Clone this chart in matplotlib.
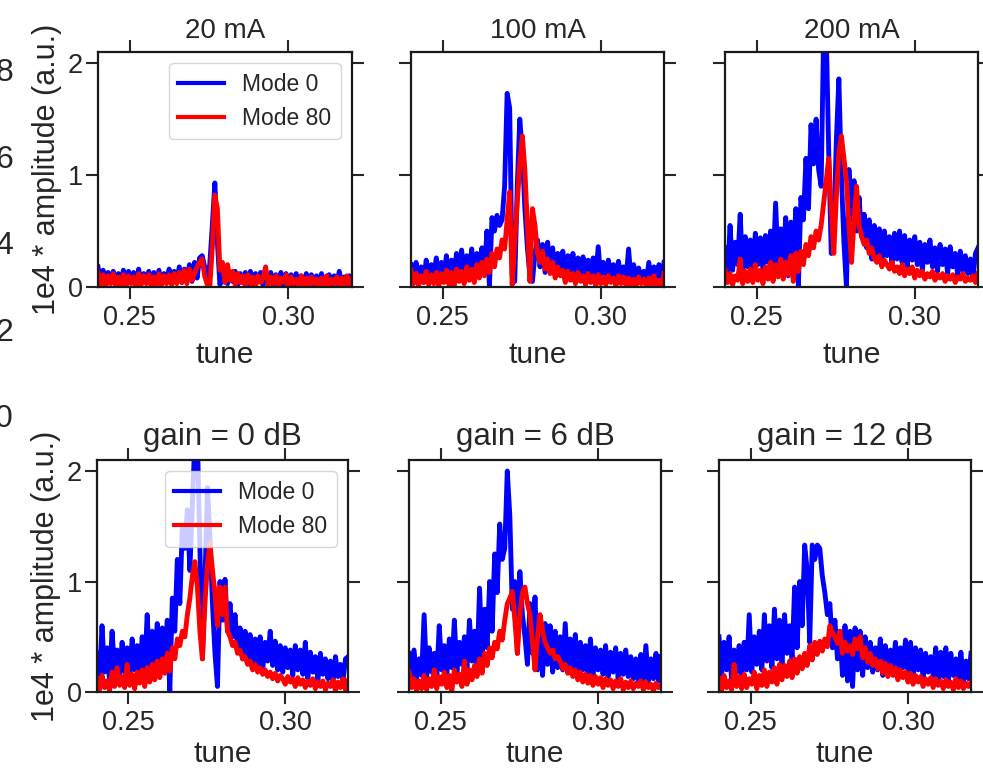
"""
Betatron tune spectra for mode 0 and mode 80: current scan (top row) and
feedback gain scan (bottom row).
"""

import matplotlib
matplotlib.use("Agg")
import matplotlib.pyplot as plt
import numpy as np

# ---------------------------------------------------------------------------
# Spectra, in units of 1e4 * amplitude, sampled every 0.0008 in tune from 0.24
# ---------------------------------------------------------------------------
TUNE_START = 0.24
TUNE_STEP = 0.0008

MA20_MODE0 = [
    0.18, 0.03, 0.15, 0.01, 0.13, 0.04, 0.14, 0.00, 0.12, 0.03,
    0.15, 0.01, 0.14, 0.05, 0.13, 0.00, 0.16, 0.03, 0.12, 0.04,
    0.14, 0.01, 0.13, 0.03, 0.15, 0.02, 0.12, 0.05, 0.16, 0.03,
    0.14, 0.05, 0.18, 0.04, 0.16, 0.06, 0.20, 0.05, 0.22, 0.08,
    0.26, 0.28, 0.18, 0.08, 0.20, 0.55, 0.93, 0.40, 0.02, 0.08,
    0.15, 0.03, 0.13, 0.05, 0.14, 0.02, 0.12, 0.04, 0.13, 0.02,
    0.14, 0.03, 0.12, 0.05, 0.13, 0.01, 0.12, 0.03, 0.13, 0.01,
    0.11, 0.04, 0.13, 0.02, 0.12, 0.03, 0.11, 0.01, 0.12, 0.04,
    0.10, 0.02, 0.12, 0.03, 0.11, 0.01, 0.10, 0.03, 0.12, 0.02,
    0.09, 0.11, 0.02, 0.10, 0.03, 0.14, 0.02, 0.09, 0.01, 0.10,
    0.08,
]
MA20_MODE80 = [
    0.13, 0.02, 0.11, 0.01, 0.10, 0.03, 0.12, 0.00, 0.09, 0.02,
    0.11, 0.01, 0.10, 0.03, 0.09, 0.00, 0.12, 0.02, 0.10, 0.03,
    0.11, 0.01, 0.09, 0.02, 0.12, 0.01, 0.10, 0.03, 0.11, 0.02,
    0.12, 0.03, 0.13, 0.04, 0.15, 0.03, 0.16, 0.06, 0.12, 0.18,
    0.22, 0.25, 0.10, 0.02, 0.00, 0.35, 0.82, 0.70, 0.15, 0.22,
    0.04, 0.20, 0.06, 0.14, 0.02, 0.12, 0.04, 0.10, 0.01, 0.11,
    0.03, 0.09, 0.01, 0.10, 0.04, 0.08, 0.18, 0.02, 0.09, 0.03,
    0.10, 0.01, 0.08, 0.04, 0.11, 0.01, 0.09, 0.03, 0.07, 0.01,
    0.10, 0.02, 0.08, 0.01, 0.09, 0.03, 0.07, 0.01, 0.08, 0.02,
    0.10, 0.01, 0.07, 0.03, 0.09, 0.01, 0.08, 0.02, 0.10, 0.01,
    0.07,
]

MA100_MODE0 = [
    0.20, 0.06, 0.22, 0.08, 0.18, 0.04, 0.24, 0.07, 0.20, 0.09,
    0.26, 0.06, 0.22, 0.10, 0.28, 0.08, 0.24, 0.12, 0.30, 0.09,
    0.33, 0.11, 0.28, 0.13, 0.34, 0.10, 0.30, 0.15, 0.35, 0.12,
    0.50, 0.00, 0.62, 0.50, 0.64, 0.55, 0.60, 0.90, 1.73, 1.60,
    0.10, 0.05, 0.90, 1.50, 1.20, 0.70, 0.35, 0.10, 0.05, 0.30,
    0.42, 0.18, 0.38, 0.13, 0.40, 0.16, 0.35, 0.10, 0.30, 0.14,
    0.32, 0.08, 0.28, 0.12, 0.30, 0.10, 0.26, 0.08, 0.27, 0.11,
    0.24, 0.07, 0.26, 0.09, 0.36, 0.08, 0.22, 0.06, 0.24, 0.10,
    0.20, 0.05, 0.23, 0.08, 0.18, 0.07, 0.34, 0.05, 0.20, 0.08,
    0.17, 0.06, 0.14, 0.04, 0.22, 0.05, 0.18, 0.03, 0.20, 0.06,
    0.22,
]
MA100_MODE80 = [
    0.15, 0.03, 0.12, 0.01, 0.10, 0.04, 0.14, 0.02, 0.11, 0.03,
    0.13, 0.01, 0.12, 0.04, 0.15, 0.02, 0.13, 0.00, 0.16, 0.05,
    0.14, 0.03, 0.18, 0.06, 0.16, 0.04, 0.20, 0.08, 0.22, 0.10,
    0.25, 0.13, 0.30, 0.18, 0.34, 0.26, 0.42, 0.34, 0.60, 0.85,
    0.02, 0.40, 0.75, 1.10, 1.35, 1.05, 0.55, 0.05, 0.70, 0.55,
    0.30, 0.22, 0.32, 0.16, 0.25, 0.12, 0.22, 0.08, 0.18, 0.10,
    0.15, 0.04, 0.14, 0.06, 0.12, 0.03, 0.13, 0.05, 0.10, 0.02,
    0.12, 0.04, 0.10, 0.01, 0.11, 0.03, 0.09, 0.02, 0.10, 0.04,
    0.08, 0.01, 0.10, 0.03, 0.09, 0.01, 0.08, 0.02, 0.07, 0.01,
    0.09, 0.03, 0.07, 0.01, 0.08, 0.02, 0.10, 0.01, 0.06, 0.02,
    0.12,
]

MA200_MODE0 = [
    0.35, 0.10, 0.55, 0.15, 0.40, 0.20, 0.65, 0.12, 0.45, 0.18,
    0.42, 0.16, 0.48, 0.20, 0.44, 0.15, 0.46, 0.22, 0.50, 0.18,
    0.75, 0.20, 0.52, 0.25, 0.62, 0.10, 0.58, 0.28, 0.70, 0.00,
    0.80, 0.60, 1.15, 0.70, 1.45, 1.10, 1.50, 1.05, 0.90, 2.30,
    2.30, 1.20, 0.30, 0.50, 1.30, 1.86, 1.00, 0.40, 0.00, 1.05,
    0.60, 0.95, 0.50, 0.80, 0.45, 0.65, 0.35, 0.60, 0.25, 0.55,
    0.30, 0.52, 0.22, 0.50, 0.28, 0.45, 0.20, 0.48, 0.25, 0.50,
    0.22, 0.46, 0.18, 0.42, 0.24, 0.45, 0.20, 0.40, 0.15, 0.38,
    0.22, 0.42, 0.18, 0.35, 0.14, 0.38, 0.20, 0.34, 0.12, 0.36,
    0.18, 0.30, 0.10, 0.32, 0.15, 0.28, 0.12, 0.25, 0.08, 0.30,
    0.35,
]
MA200_MODE80 = [
    0.15, 0.04, 0.12, 0.02, 0.10, 0.06, 0.25, 0.03, 0.14, 0.05,
    0.16, 0.04, 0.20, 0.06, 0.15, 0.03, 0.18, 0.07, 0.22, 0.05,
    0.20, 0.09, 0.25, 0.07, 0.22, 0.11, 0.28, 0.05, 0.30, 0.14,
    0.32, 0.20, 0.38, 0.28, 0.45, 0.35, 0.50, 0.42, 0.55, 0.75,
    0.95, 1.15, 0.70, 0.30, 0.80, 1.20, 1.35, 1.15, 0.95, 0.55,
    0.22, 0.60, 0.90, 0.55, 0.45, 0.38, 0.42, 0.30, 0.35, 0.26,
    0.22, 0.28, 0.18, 0.24, 0.20, 0.16, 0.22, 0.14, 0.18, 0.12,
    0.20, 0.10, 0.16, 0.12, 0.18, 0.08, 0.15, 0.10, 0.14, 0.07,
    0.12, 0.09, 0.14, 0.06, 0.11, 0.08, 0.12, 0.05, 0.10, 0.07,
    0.11, 0.04, 0.09, 0.07, 0.12, 0.05, 0.08, 0.06, 0.10, 0.04,
    0.12,
]

GAIN0_MODE0 = [
    0.35, 0.12, 0.60, 0.18, 0.40, 0.10, 0.55, 0.20, 0.38, 0.15,
    0.45, 0.18, 0.40, 0.12, 0.48, 0.20, 0.42, 0.15, 0.50, 0.22,
    0.70, 0.18, 0.55, 0.25, 0.62, 0.20, 0.58, 0.30, 0.65, 0.00,
    0.85, 0.55, 1.20, 0.80, 1.50, 1.30, 1.65, 1.10, 1.70, 2.30,
    2.30, 1.30, 0.30, 1.00, 1.85, 1.40, 0.80, 0.35, 0.05, 1.00,
    0.65, 1.02, 0.55, 0.80, 0.50, 0.70, 0.38, 0.58, 0.30, 0.55,
    0.28, 0.52, 0.25, 0.48, 0.22, 0.50, 0.20, 0.45, 0.28, 0.55,
    0.24, 0.46, 0.20, 0.42, 0.18, 0.40, 0.22, 0.38, 0.15, 0.42,
    0.20, 0.38, 0.16, 0.45, 0.12, 0.36, 0.18, 0.32, 0.10, 0.35,
    0.16, 0.30, 0.12, 0.28, 0.08, 0.32, 0.14, 0.25, 0.10, 0.30,
    0.32,
]
GAIN0_MODE80 = [
    0.12, 0.02, 0.15, 0.04, 0.10, 0.01, 0.18, 0.05, 0.22, 0.06,
    0.14, 0.04, 0.25, 0.06, 0.16, 0.03, 0.18, 0.08, 0.20, 0.05,
    0.22, 0.09, 0.25, 0.11, 0.28, 0.13, 0.30, 0.17, 0.35, 0.19,
    0.40, 0.30, 0.48, 0.42, 0.55, 0.50, 0.70, 0.85, 1.05, 1.18,
    0.95, 0.55, 0.30, 0.80, 1.15, 1.35, 1.10, 0.90, 0.60, 0.95,
    0.70, 0.95, 0.55, 0.50, 0.42, 0.45, 0.35, 0.38, 0.30, 0.32,
    0.25, 0.28, 0.20, 0.25, 0.18, 0.22, 0.16, 0.20, 0.14, 0.18,
    0.12, 0.17, 0.10, 0.15, 0.12, 0.07, 0.14, 0.09, 0.12, 0.05,
    0.13, 0.07, 0.11, 0.04, 0.10, 0.06, 0.12, 0.03, 0.09, 0.05,
    0.10, 0.02, 0.08, 0.05, 0.11, 0.01, 0.09, 0.04, 0.12, 0.02,
    0.10,
]

GAIN6_MODE0 = [
    0.35, 0.10, 0.38, 0.12, 0.30, 0.15, 0.70, 0.14, 0.40, 0.18,
    0.35, 0.12, 0.60, 0.20, 0.42, 0.15, 0.48, 0.22, 0.65, 0.18,
    0.45, 0.25, 0.50, 0.20, 0.65, 0.28, 0.55, 0.22, 0.94, 0.30,
    0.75, 0.40, 1.00, 0.55, 1.25, 0.90, 1.52, 1.20, 1.30, 2.00,
    1.60, 0.75, 1.00, 0.35, 1.09, 0.70, 0.50, 0.25, 0.80, 0.35,
    0.86, 0.20, 0.55, 0.15, 0.62, 0.25, 0.60, 0.18, 0.55, 0.22,
    0.50, 0.20, 0.62, 0.18, 0.48, 0.22, 0.52, 0.15, 0.45, 0.20,
    0.42, 0.18, 0.48, 0.15, 0.40, 0.20, 0.38, 0.16, 0.42, 0.14,
    0.36, 0.18, 0.40, 0.12, 0.35, 0.16, 0.38, 0.14, 0.32, 0.12,
    0.30, 0.10, 0.34, 0.12, 0.42, 0.10, 0.30, 0.12, 0.35, 0.10,
    0.32,
]
GAIN6_MODE80 = [
    0.18, 0.04, 0.12, 0.01, 0.10, 0.03, 0.15, 0.02, 0.12, 0.05,
    0.20, 0.03, 0.14, 0.07, 0.18, 0.04, 0.15, 0.01, 0.20, 0.09,
    0.16, 0.05, 0.28, 0.07, 0.20, 0.11, 0.24, 0.14, 0.30, 0.17,
    0.35, 0.24, 0.40, 0.31, 0.45, 0.39, 0.55, 0.47, 0.65, 0.80,
    0.85, 0.91, 0.65, 0.35, 0.70, 0.90, 0.95, 0.80, 0.70, 0.45,
    0.20, 0.50, 0.70, 0.55, 0.45, 0.40, 0.35, 0.38, 0.30, 0.32,
    0.28, 0.21, 0.25, 0.17, 0.22, 0.14, 0.20, 0.11, 0.18, 0.09,
    0.16, 0.08, 0.15, 0.06, 0.14, 0.07, 0.13, 0.04, 0.12, 0.06,
    0.11, 0.03, 0.10, 0.05, 0.12, 0.02, 0.09, 0.04, 0.10, 0.03,
    0.08, 0.05, 0.10, 0.02, 0.09, 0.04, 0.07, 0.01, 0.08, 0.04,
    0.06,
]

GAIN12_MODE0 = [
    0.50, 0.15, 0.45, 0.20, 0.50, 0.10, 0.38, 0.18, 0.42, 0.12,
    0.45, 0.20, 0.70, 0.18, 0.50, 0.25, 0.55, 0.20, 0.70, 0.28,
    0.60, 0.22, 0.75, 0.30, 0.65, 0.25, 0.70, 0.35, 0.60, 0.30,
    0.95, 0.40, 1.00, 0.60, 1.33, 1.10, 0.45, 1.33, 1.20, 1.33,
    1.30, 1.05, 0.90, 0.70, 0.80, 0.40, 0.65, 0.30, 0.55, 0.15,
    0.60, 0.10, 0.55, 0.05, 0.58, 0.20, 0.55, 0.15, 0.50, 0.22,
    0.45, 0.18, 0.40, 0.20, 0.48, 0.15, 0.42, 0.18, 0.38, 0.20,
    0.45, 0.15, 0.40, 0.22, 0.47, 0.18, 0.45, 0.15, 0.40, 0.20,
    0.38, 0.12, 0.35, 0.18, 0.32, 0.15, 0.40, 0.12, 0.36, 0.14,
    0.40, 0.10, 0.35, 0.15, 0.30, 0.12, 0.36, 0.10, 0.28, 0.12,
    0.35,
]
GAIN12_MODE80 = [
    0.12, 0.01, 0.15, 0.04, 0.10, 0.02, 0.25, 0.05, 0.14, 0.03,
    0.16, 0.04, 0.12, 0.07, 0.18, 0.03, 0.15, 0.06, 0.20, 0.05,
    0.18, 0.09, 0.22, 0.07, 0.25, 0.11, 0.24, 0.14, 0.28, 0.13,
    0.30, 0.17, 0.32, 0.21, 0.35, 0.24, 0.42, 0.29, 0.45, 0.34,
    0.46, 0.37, 0.48, 0.41, 0.60, 0.54, 0.50, 0.44, 0.55, 0.35,
    0.45, 0.37, 0.42, 0.34, 0.48, 0.39, 0.50, 0.31, 0.40, 0.27,
    0.35, 0.24, 0.30, 0.21, 0.28, 0.17, 0.26, 0.14, 0.24, 0.15,
    0.22, 0.11, 0.20, 0.13, 0.18, 0.09, 0.17, 0.07, 0.15, 0.09,
    0.14, 0.05, 0.12, 0.07, 0.13, 0.04, 0.12, 0.06, 0.10, 0.03,
    0.11, 0.05, 0.09, 0.02, 0.12, 0.04, 0.10, 0.03, 0.08, 0.05,
    0.09,
]

TOP_TITLES = ["20 mA", "100 mA", "200 mA"]
BOTTOM_TITLES = ["gain = 0 dB", "gain = 6 dB", "gain = 12 dB"]
TOP_SPECTRA = [(MA20_MODE0, MA20_MODE80), (MA100_MODE0, MA100_MODE80),
               (MA200_MODE0, MA200_MODE80)]
BOTTOM_SPECTRA = [(GAIN0_MODE0, GAIN0_MODE80), (GAIN6_MODE0, GAIN6_MODE80),
                  (GAIN12_MODE0, GAIN12_MODE80)]
SERIES_LABELS = ["Mode 0", "Mode 80"]
X_TICKS = [0.25, 0.30]
Y_TICKS = [0, 1, 2]
# tick labels of the neighbouring figure on the left
SIDE_LABELS = ["8", "6", "4", "2", "0"]

W, H = 983, 770
TEXT = "#262626"

plt.rcParams["font.family"] = ["Liberation Sans", "DejaVu Sans"]
plt.rcParams["text.color"] = TEXT
plt.rcParams["axes.labelcolor"] = TEXT
plt.rcParams["xtick.color"] = TEXT
plt.rcParams["ytick.color"] = TEXT


def _tune(values):
    return TUNE_START + TUNE_STEP * np.arange(len(values))


def _panel(fig, box, title, spectra, first, legend, title_size, title_pad,
           xlabel_pad):
    left, right, top, bottom = box
    ax = fig.add_axes([left / W, 1 - bottom / H, (right - left) / W, (bottom - top) / H])
    for vals, color, label in zip(spectra, ["blue", "red"], SERIES_LABELS):
        ax.plot(_tune(vals), vals, color=color, lw=3.5, label=label,
                solid_joinstyle="round")
    ax.set_xlim(0.24, 0.32)
    ax.set_ylim(0, 2.1)
    ax.set_xticks(X_TICKS)
    ax.set_xticklabels([f"{t:.2f}" for t in X_TICKS])
    ax.set_yticks(Y_TICKS)
    ax.tick_params(direction="out", length=8.5, width=1.5, top=True, right=True,
                   labelsize=19.5, color=TEXT)
    ax.tick_params(axis="x", pad=4.5)
    ax.tick_params(axis="y", pad=2.5, labelleft=first)
    for s in ax.spines.values():
        s.set_linewidth(1.6)
        s.set_color("#1a1a1a")
    ax.set_xlabel("tune", fontsize=21.5, labelpad=xlabel_pad)
    if first:
        ax.set_ylabel("1e4 * amplitude (a.u.)", fontsize=22, labelpad=4)
    ax.set_title(title, fontsize=title_size, pad=title_pad)
    if legend:
        leg = ax.legend(loc="upper right", fontsize=16.5, framealpha=0.8,
                        edgecolor="0.8")
        for line in leg.get_lines():
            line.set_linewidth(3)
    return ax


fig = plt.figure(figsize=(W / 100, H / 100), dpi=100)

top_boxes = [(98, 352, 52, 287), (411, 664, 52, 287), (725, 978, 52, 287)]
bottom_boxes = [(97, 348, 460, 692), (409, 661, 460, 692), (719, 971, 460, 692)]

for i, (box, title, spectra) in enumerate(zip(top_boxes, TOP_TITLES, TOP_SPECTRA)):
    _panel(fig, box, title, spectra, i == 0, i == 0, 20, 10, 7)
for i, (box, title, spectra) in enumerate(zip(bottom_boxes, BOTTOM_TITLES, BOTTOM_SPECTRA)):
    _panel(fig, box, title, spectra, i == 0, i == 0, 22.5, 11, 2.5)

for k, lab in enumerate(SIDE_LABELS):
    fig.text(13 / W, 1 - (73 + 86.5 * k) / H, lab, ha="right", va="center",
             fontsize=23)

fig.savefig("out.png", dpi=100)
